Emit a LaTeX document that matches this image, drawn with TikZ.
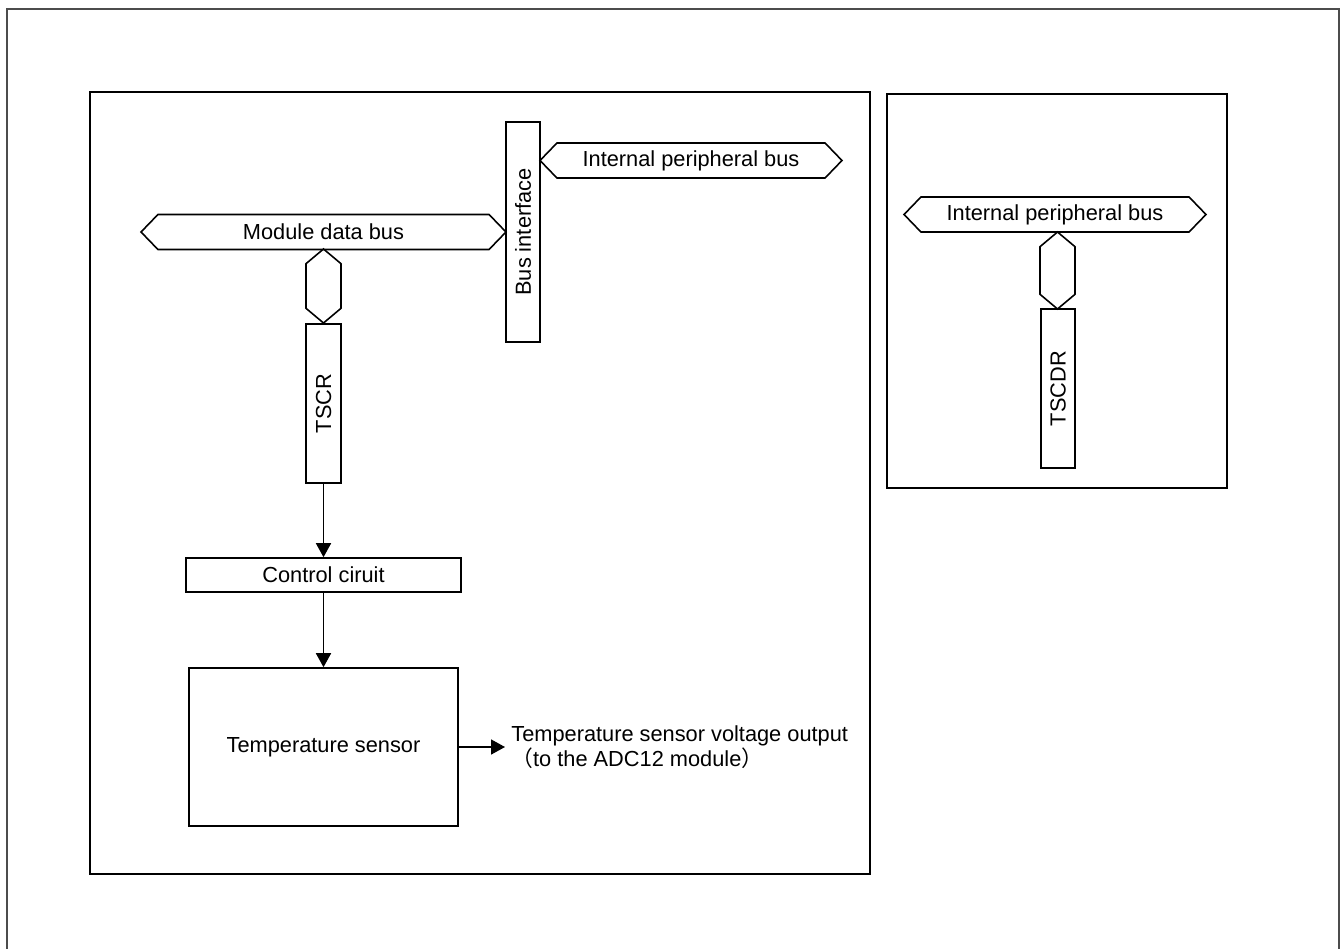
\documentclass[tikz,border=0pt]{standalone}
\usepackage{fontspec}
\setmainfont{Liberation Sans}
\newfontfamily\cjk{Noto Sans CJK SC}
\usepackage{tikz}
\usetikzlibrary{arrows.meta,positioning,shapes.symbols}
\tikzset{
  blk/.style    ={draw,line width=0.9pt,inner sep=0pt,align=center,
                  font=\fontsize{12.4pt}{13pt}\selectfont},
  bus/.style    ={blk,signal,signal to=east and west,signal pointer angle=92,
                  minimum width=#1,minimum height=0.7cm},
  vbus/.style   ={blk,signal,signal to=east and west,signal pointer angle=100,
                  rotate=90,minimum width=#1,minimum height=0.7cm},
  reg/.style    ={blk,minimum width=0.69cm,minimum height=#1},
  frame/.style  ={line width=0.9pt},
  flow/.style   ={-{Triangle[length=0.28cm,width=0.3cm]},line width=0.9pt},
}

\begin{document}
\begin{tikzpicture}[x=0.02cm,y=-0.02cm]
    \useasboundingbox (0,0) rectangle (1341,949);
    % frames
    \draw[frame,black!70] (7,949) -- (7,9) -- (1339,9) -- (1339,949);
    \draw[frame] (90,92) rectangle (870,874);
    \draw[frame] (887,94) rectangle (1227,488);

    % left module
    \node[bus=7.3cm]  (mdb)  at (323.5,232) {Module data bus};
    \node[vbus=1.48cm] (hexl) at (323.5,286) {};
    \node[reg=3.18cm] (tscr) at (323.5,403.5) {\rotatebox{90}{TSCR}};
    \node[blk,minimum width=5.5cm,minimum height=0.68cm] (ctl) at (323.5,575) {Control ciruit};
    \node[blk,minimum width=5.38cm,minimum height=3.16cm] (ts) at (323.5,747) {Temperature sensor};
    \node[reg=4.4cm] (bif) at (523,232) {\rotatebox{90}{Bus interface}};
    \node[bus=6.04cm] (ipbl) at (691,160.5) {Internal peripheral bus};
    % right module
    \node[bus=6.04cm] (ipbr) at (1055,214.5) {Internal peripheral bus};
    \node[vbus=1.54cm] (hexr) at (1057.5,270.5) {};
    \node[reg=3.18cm] (tscdr) at (1058,388.5) {\rotatebox{90}{TSCDR}};

    % output
    \coordinate (vout) at (505,747);
    \node[font=\fontsize{12.4pt}{13pt}\selectfont,align=left,anchor=west,inner sep=0pt]
      (outtxt) at (511,747) {Temperature sensor voltage output\\{\cjk （}to the ADC12 module{\cjk ）}};

    % arrows
    \draw[flow] (tscr.south) -- (ctl.north);
    \draw[flow] (ctl.south) -- (ts.north);
    \draw[flow] (ts.east) -- (vout);
  \end{tikzpicture}
\end{document}
